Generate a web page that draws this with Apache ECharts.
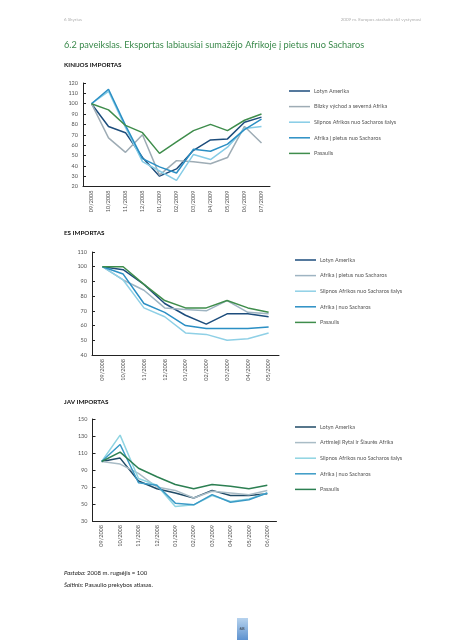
<!DOCTYPE html>
<html><head><meta charset="utf-8">
<script src="https://cdn.jsdelivr.net/npm/echarts@6/dist/echarts.min.js"></script>
<style>html,body{margin:0;padding:0;background:#fff}#c{width:453px;height:640px}</style>
</head><body><div id="c"></div>
<script>
// ---- data ----
const cat1 = ['09/2008','10/2008','11/2008','12/2008','01/2009','02/2009','03/2009','04/2009','05/2009','06/2009','07/2009'];
const cat2 = ['09/2008','10/2008','11/2008','12/2008','01/2009','02/2009','03/2009','04/2009','05/2009'];
const cat3 = ['09/2008','10/2008','11/2008','12/2008','01/2009','02/2009','03/2009','04/2009','05/2009','06/2009'];

const names1 = ['Lotyn Amerika','Blizky východ a severná Afrika','Silpnos Afrikos nuo Sacharos šalys','Afrika į pietus nuo Sacharos','Pasaulis'];
const names2 = ['Lotyn Amerika','Afrika į pietus nuo Sacharos','Silpnos Afrikos nuo Sacharos šalys','Afrika į nuo Sacharos','Pasaulis'];
const names3 = ['Lotyn Amerika','Artimieji Rytai ir Šiaurės Afrika','Silpnos Afrikos nuo Sacharos šalys','Afrika į nuo Sacharos','Pasaulis'];

// KINIJOS IMPORTAS
const cnLatAm   = [100, 78, 72, 48, 30, 37, 55, 65, 66, 82, 87];
const cnMENA    = [100, 67, 53, 70, 31, 45, 44, 42, 48, 78, 62];
const cnWeak    = [100, 112, 77, 44, 35, 26, 51, 46, 58, 76, 78];
const cnSSA     = [100, 114, 79, 47, 39, 33, 56, 54, 61, 75, 85];
const cnWorld   = [100, 94, 79, 72, 52, 63, 74, 80, 74, 84, 90];
// ES IMPORTAS
const euLatAm   = [100, 98, 88, 75, 67, 61, 68, 68, 66];
const euSSA     = [100, 91, 84, 72, 71, 70, 77, 69, 68];
const euWeak    = [100, 91, 72, 66, 55, 54, 50, 51, 55];
const euAfr     = [100, 95, 75, 69, 60, 58, 58, 58, 59];
const euWorld   = [100, 100, 88, 77, 72, 72, 77, 72, 69];
// JAV IMPORTAS
const usLatAm   = [100, 104, 77, 68, 63, 57, 66, 60, 60, 62];
const usMENA    = [100, 97, 86, 70, 66, 57, 65, 63, 61, 66];
const usWeak    = [100, 131, 80, 72, 47, 49, 60, 53, 56, 63];
const usAfr     = [100, 120, 75, 72, 51, 49, 61, 52, 55, 63];
const usWorld   = [100, 111, 92, 82, 73, 68, 73, 71, 68, 72];

const colors1 = ['#1d4d7c','#9eacb5','#86cce6','#2b8fc4','#3f8d4c'];
const colors2 = ['#1d4d7c','#9eb4c2','#8fd0e6','#2b8fc4','#3f8d4c'];
const colors3 = ['#1f4a66','#a9bcc6','#8fd4e2','#3a9ac6','#2c7f52'];

// ---- chart ----
const FONT = 'Lato, "Open Sans", sans-serif';
const chart = echarts.init(document.getElementById('c'), null, {renderer:'canvas'});

function xAx(idx, cats){
  return {type:'category', gridIndex:idx, data:cats, boundaryGap:true,
    axisLine:{lineStyle:{color:'#222',width:1}},
    axisTick:{inside:true,length:3,alignWithLabel:false,lineStyle:{color:'#222'}},
    axisLabel:{rotate:90,fontSize:5.5,color:'#555',margin:4,fontFamily:FONT,interval:0}};
}
function yAx(idx,min,max,intv){
  return {type:'value', gridIndex:idx, min:min, max:max, interval:intv,
    splitLine:{show:false},
    axisLine:{show:true,lineStyle:{color:'#222',width:1}},
    axisTick:{show:true,inside:true,length:3,lineStyle:{color:'#222'}},
    axisLabel:{fontSize:5.5,color:'#555',margin:5,fontFamily:FONT}};
}
const sets = [
  {names:names1, data:[cnLatAm,cnMENA,cnWeak,cnSSA,cnWorld], colors:colors1},
  {names:names2, data:[euLatAm,euSSA,euWeak,euAfr,euWorld], colors:colors2},
  {names:names3, data:[usLatAm,usMENA,usWeak,usAfr,usWorld], colors:colors3}
];
const series = [];
const legends = [];
const legendPos = [{left:284,top:82},{left:290,top:251},{left:290,top:418}];
sets.forEach((s,gi)=>{
  const ld = [];
  s.names.forEach((n,i)=>{
    const key = n + '#' + gi;
    ld.push(key);
    series.push({type:'line', name:key, xAxisIndex:gi, yAxisIndex:gi, data:s.data[i],
      symbol:'none', smooth:false, color:s.colors[i],
      lineStyle:{width:1.5,color:s.colors[i]}, z: (i===4?3:2)});
  });
  legends.push({orient:'vertical', left:legendPos[gi].left, top:legendPos[gi].top, data:ld,
    icon:'rect', itemWidth:21, itemHeight:1.5, itemGap:7.6,
    textStyle:{fontSize:5.5,color:'#555',lineHeight:8,fontFamily:FONT, padding:[0,0,0,-1]},
    formatter:(nm)=>nm.split('#')[0], selectedMode:false});
});

const option = {
  animation:false,
  textStyle:{fontFamily:FONT},
  grid:[
    {left:83, top:83, width:187, height:103.5},
    {left:92, top:252, width:187, height:103},
    {left:92.5, top:419, width:184, height:102}
  ],
  xAxis:[xAx(0,cat1), xAx(1,cat2), xAx(2,cat3)],
  yAxis:[yAx(0,20,120,10), yAx(1,40,110,10), yAx(2,30,150,20)],
  legend:legends,
  series:series,
  graphic:[
    {type:'text', left:64, top:17, style:{text:'6 Skyrius', fontSize:4.5, fill:'#b0b0b0', fontFamily:FONT}},
    {type:'text', right:32, top:17, style:{text:'2009 m. Europos ataskaita dėl vystymosi', fontSize:4.5, fill:'#b0b0b0', fontFamily:FONT}},
    {type:'text', left:64, top:41, style:{text:'6.2 paveikslas. Eksportas labiausiai sumažėjo Afrikoje į pietus nuo Sacharos', fontSize:9.2, fill:'#3b8a4c', fontFamily:FONT}},
    {type:'text', left:64, top:62, style:{text:'KINIJOS IMPORTAS', fontSize:6.3, fontWeight:'bold', fill:'#111', fontFamily:FONT}},
    {type:'text', left:64, top:230, style:{text:'ES IMPORTAS', fontSize:6.3, fontWeight:'bold', fill:'#111', fontFamily:FONT}},
    {type:'text', left:64, top:399, style:{text:'JAV IMPORTAS', fontSize:6.3, fontWeight:'bold', fill:'#111', fontFamily:FONT}},
    {type:'text', left:64, top:570, style:{text:'{i|Pastaba:} 2008 m. rugsėjis = 100', fontSize:6, fill:'#222', fontFamily:FONT,
      rich:{i:{fontStyle:'italic', fontSize:6, fill:'#222', fontFamily:FONT}}}},
    {type:'text', left:64, top:582, style:{text:'{i|Šaltinis:} Pasaulio prekybos atlasas.', fontSize:6, fill:'#222', fontFamily:FONT,
      rich:{i:{fontStyle:'italic', fontSize:6, fill:'#222', fontFamily:FONT}}}},
    {type:'rect', left:237, top:618, shape:{width:11, height:22},
      style:{fill:new echarts.graphic.LinearGradient(0,0,0,1,[{offset:0,color:'#b7d3ee'},{offset:1,color:'#5e92cf'}])}},
    {type:'text', left:239.5, top:626, style:{text:'68', fontSize:4.5, fill:'#333', fontFamily:FONT}}
  ]
};
chart.setOption(option);
</script></body></html>
